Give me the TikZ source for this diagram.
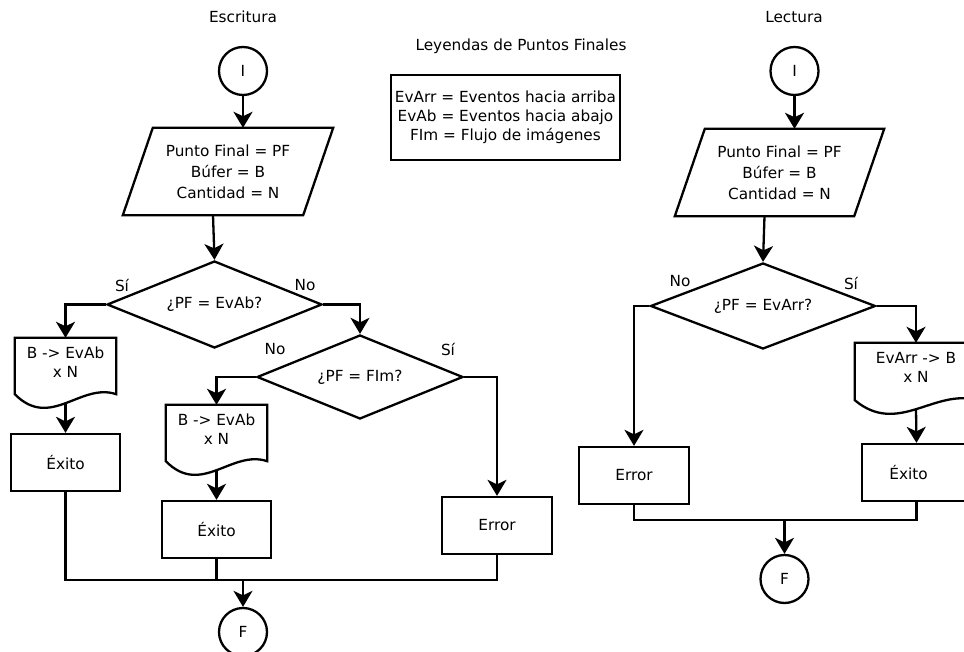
\documentclass[tikz,border=0pt]{standalone}
\usepackage{fontspec}
\setmainfont{DejaVu Sans}
\usetikzlibrary{shapes.geometric,arrows.meta,calc}

\tikzset{
  flow/.style={line width=2.3pt, line join=miter},
  arrow/.style={flow, -{Stealth[length=16pt,width=19pt,inset=4.5pt]}},
  term/.style={circle, draw, flow, minimum size=48pt, inner sep=0pt},
  procbox/.style={rectangle, draw, flow, minimum width=109pt, minimum height=57pt, inner sep=0pt},
  decision/.style={diamond, draw, flow, inner sep=0pt, aspect=2.5},
  body/.style={rectangle, inner sep=0pt, align=center},
  lbl/.style={inner sep=0pt}
}

% Document symbol: flat top, straight sides, wavy bottom edge
\newcommand\docsymbol[1]{%
  \draw[flow] (#1.north west) -- (#1.north east) -- ($(#1.south east)+(0,8)$)
    .. controls ($(#1.south west)!0.65!(#1.south east)+(0,-4)$)
       and ($(#1.south west)!0.35!(#1.south east)+(0,44)$)
    .. ($(#1.south west)+(0,8)$) -- cycle;}

% Input/output symbol: parallelogram leaning to the right
\newcommand\iosymbol[1]{%
  \draw[flow] ([xshift=15pt]#1.north west) -- ([xshift=15pt]#1.north east)
    -- ([xshift=-15pt]#1.south east) -- ([xshift=-15pt]#1.south west) -- cycle;}

\begin{document}
\begin{tikzpicture}[x=1pt,y=-1pt,font=\fontsize{15.3}{19}\selectfont]
\useasboundingbox (0,0) rectangle (964,652);

% ---------------- Escritura ----------------
\node[lbl] (t1) at (243,17) {Escritura};
\node[term] (i1) at (243,71) {I};
\node[body, minimum width=180pt, minimum height=87pt] (p1) at (228,171.5)
  {Punto Final = PF\\[2pt] Búfer = B\\[2pt] Cantidad = N};
\iosymbol{p1}
\node[decision, minimum width=215pt, minimum height=87pt] (d1) at (214.5,304.5) {¿PF = EvAb?};
\node[lbl] (l1) at (122,285) {Sí};
\node[lbl] (l2) at (305,285) {No};
\node[body, minimum width=101pt, minimum height=48pt] (doc1) at (65.5,362) {B -> EvAb\\x N};
\docsymbol{doc1}
\node[procbox] (e1) at (65.5,462.5) {Éxito};
\node[decision, minimum width=206pt, minimum height=84pt] (d2) at (360,377) {¿PF = FIm?};
\node[lbl] (l3) at (275,349) {No};
\node[lbl] (l4) at (448,349) {Sí};
\node[body, minimum width=101pt, minimum height=48pt] (doc2) at (216.5,429) {B -> EvAb\\x N};
\docsymbol{doc2}
\node[procbox] (e2) at (216.5,529.5) {Éxito};
\node[procbox, minimum width=110pt] (err1) at (497,525.5) {Error};
\node[term] (f1) at (243,632) {F};
\coordinate (m1) at (243,580);

\draw[arrow] (i1) -- ([xshift=15pt]p1.north);
\draw[arrow] ([xshift=-15pt]p1.south) -- (d1.north);
\draw[arrow] (d1.west) -| (doc1.north);
\draw[arrow] (d1.east) -| (d2.north);
\draw[arrow] ([yshift=-17pt]doc1.south) -- (e1.north);
\draw[arrow] (d2.west) -| (doc2.north);
\draw[arrow] (d2.east) -| (err1.north);
\draw[arrow] ([yshift=-17pt]doc2.south) -- (e2.north);
\draw[flow] (e1.south) |- (m1) -| (err1.south);
\draw[flow] (e2.south) -- (e2.south |- m1);
\draw[arrow] (m1) -- (f1);

% ---------------- Leyendas ----------------
\node[lbl] (t2) at (521,46) {Leyendas de Puntos Finales};
\node[rectangle, draw, flow, align=center, minimum width=229pt, minimum height=85pt, inner sep=0pt] (leg) at (505.5,117.5)
  {EvArr = Eventos hacia arriba\\EvAb = Eventos hacia abajo\\FIm = Flujo de imágenes};

% ---------------- Lectura ----------------
\node[lbl] (t3) at (794,17) {Lectura};
\node[term] (i2) at (794.5,71) {I};
\node[body, minimum width=179pt, minimum height=87pt] (p2) at (779.5,172.5)
  {Punto Final = PF\\[2pt] Búfer = B\\[2pt] Cantidad = N};
\iosymbol{p2}
\node[decision, minimum width=225pt, minimum height=86pt] (d3) at (763,306) {¿PF = EvArr?};
\node[lbl] (l5) at (680,281) {No};
\node[lbl] (l6) at (851,283) {Sí};
\node[procbox, minimum width=110pt] (err2) at (634,475.5) {Error};
\node[body, minimum width=122pt, minimum height=49pt] (doc3) at (916,367.5) {EvArr -> B\\x N};
\docsymbol{doc3}
\node[procbox] (e3) at (916.5,472.5) {Éxito\hspace*{16pt}};
\node[term] (f2) at (784.5,579) {F};
\coordinate (m2) at (784.5,520);

\draw[arrow] (i2) -- ([xshift=15pt]p2.north);
\draw[arrow] ([xshift=-15pt]p2.south) -- (d3.north);
\draw[arrow] (d3.west) -| (err2.north);
\draw[arrow] (d3.east) -| (doc3.north);
\draw[arrow] ([yshift=-17pt]doc3.south) -- (e3.north);
\draw[flow] (err2.south) |- (m2) -| (e3.south);
\draw[arrow] (m2) -- (f2);
\end{tikzpicture}
\end{document}
